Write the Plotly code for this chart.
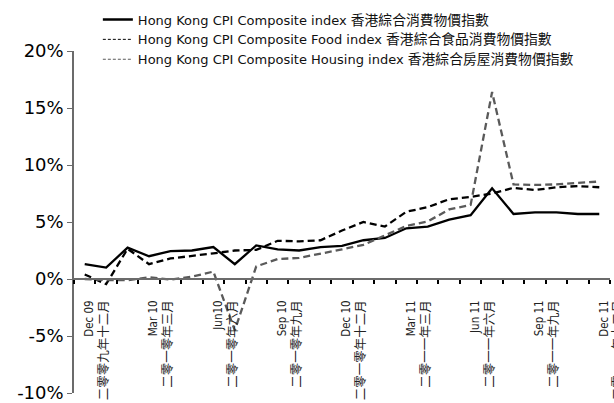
import plotly.graph_objects as go

months = ["Dec 09", "Jan 10", "Feb 10", "Mar 10", "Apr 10", "May 10", "Jun 10", "Jul 10",
          "Aug 10", "Sep 10", "Oct 10", "Nov 10", "Dec 10", "Jan 11", "Feb 11", "Mar 11",
          "Apr 11", "May 11", "Jun 11", "Jul 11", "Aug 11", "Sep 11", "Oct 11", "Nov 11", "Dec 11"]

cpi = [1.3, 1.0, 2.75, 2.0, 2.45, 2.5, 2.8, 1.3, 2.95, 2.6, 2.5, 2.8, 2.9, 3.4, 3.6, 4.45,
       4.6, 5.2, 5.6, 7.95, 5.7, 5.85, 5.85, 5.7, 5.7]
food = [0.4, -0.45, 2.65, 1.3, 1.8, 2.0, 2.25, 2.5, 2.55, 3.35, 3.3, 3.4, 4.25, 5.0, 4.6, 5.9,
        6.3, 7.0, 7.2, 7.5, 8.0, 7.8, 8.05, 8.15, 8.05]
housing = [0.0, -0.1, -0.1, 0.15, -0.05, 0.2, 0.65, -4.5, 1.1, 1.75, 1.85, 2.2, 2.6, 3.0, 3.85,
           4.65, 5.05, 6.1, 6.5, 16.4, 8.3, 8.25, 8.3, 8.45, 8.55]

label_idx = [0, 3, 6, 9, 12, 15, 18, 21, 24]
label_en = ["Dec 09", "Mar 10", "Jun10", "Sep 10", "Dec 10", "Mar 11", "Jun 11", "Sep 11", "Dec 11"]
label_zh = ["二零零九年十二月", "二零一零年三月", "二零一零年六月", "二零一零年九月", "二零一零年十二月",
            "二零一一年三月", "二零一一年六月", "二零一一年九月", "二零一一年十二月"]

y_ticks = [-10, -5, 0, 5, 10, 15, 20]
y_labels = ["-10%", "-5%", "0%", "5%", "10%", "15%", "20%"]

names_en = ["Hong Kong CPI Composite index", "Hong Kong CPI Composite Food index",
            "Hong Kong CPI Composite Housing index"]
names_zh = ["香港綜合消費物價指數", "香港綜合食品消費物價指數", "香港綜合房屋消費物價指數"]

x = list(range(len(months)))
GRAY = "#5a5a5a"
AXIS = "#6b6b6b"

H, T, B = 403, 5, 10
plot_h = H - T - B
dom_top = 342 / plot_h

fig = go.Figure()
styles = [
    dict(color="black", width=2.3, dash="solid"),
    dict(color="black", width=2.3, dash="7px,4px"),
    dict(color=GRAY, width=2.3, dash="7px,4px"),
]
legend_styles = [
    dict(color="black", width=2.5, dash="solid"),
    dict(color="black", width=1, dash="3px,2px"),
    dict(color=GRAY, width=1, dash="3px,2px"),
]
for series, st, name in zip([cpi, food, housing], styles, names_en):
    fig.add_trace(go.Scatter(x=x, y=series, mode="lines", line=st, name=name,
                             showlegend=False, hovertext=months))
for st, en, zh in zip(legend_styles, names_en, names_zh):
    fig.add_trace(go.Scatter(x=[None], y=[None], mode="lines", line=st,
                             name=f"{en} <span style='font-size:13.8px'>{zh}</span>"))

fig.update_layout(
    width=614, height=H,
    margin=dict(l=74, r=4, t=T, b=B),
    paper_bgcolor="white", plot_bgcolor="white",
    font=dict(family="DejaVu Sans, Noto Sans CJK TC", color="black"),
    legend=dict(x=0.0445, y=(H - B - 4.5) / plot_h, xanchor="left", yanchor="top",
                font=dict(size=13, color="#111111"), tracegroupgap=0,
                bgcolor="rgba(0,0,0,0)"),
    showlegend=True,
)
fig.update_xaxes(
    range=[-0.5, len(months) - 0.5],
    anchor="free", position=dom_top / 3, automargin=False,
    showline=True, linecolor=AXIS, linewidth=1.5,
    showgrid=False, zeroline=False,
    tickmode="array", tickvals=label_idx,
    ticktext=[f"{e}<br><span style='font-size:12.5px'>{z}</span>" for e, z in zip(label_en, label_zh)],
    ticks="", tickangle=-90, ticklabeloverflow="allow",
    tickfont=dict(size=11.5, family="DejaVu Sans Condensed, Liberation Sans, Noto Sans CJK TC", color="#222222"),
    ticklabelshift=12, ticklabelstandoff=16,
    minor=dict(tickvals=[i - 0.5 for i in range(len(months) + 1)], ticks="outside",
               ticklen=4, tickcolor="black", tickwidth=1.5),
)
fig.update_yaxes(
    range=[-10, 20], domain=[0, dom_top], automargin=False,
    showline=True, linecolor=AXIS, linewidth=1.5,
    showgrid=False, zeroline=False,
    tickmode="array", tickvals=y_ticks, ticktext=y_labels,
    ticks="outside", ticklen=5, tickcolor=AXIS, tickwidth=1,
    ticklabeloverflow="allow",
    tickfont=dict(size=18, family="DejaVu Sans", color="black"),
)

fig.write_html("out.html", config={"displayModeBar": False},
               post_script="document.body.style.margin='0';")
